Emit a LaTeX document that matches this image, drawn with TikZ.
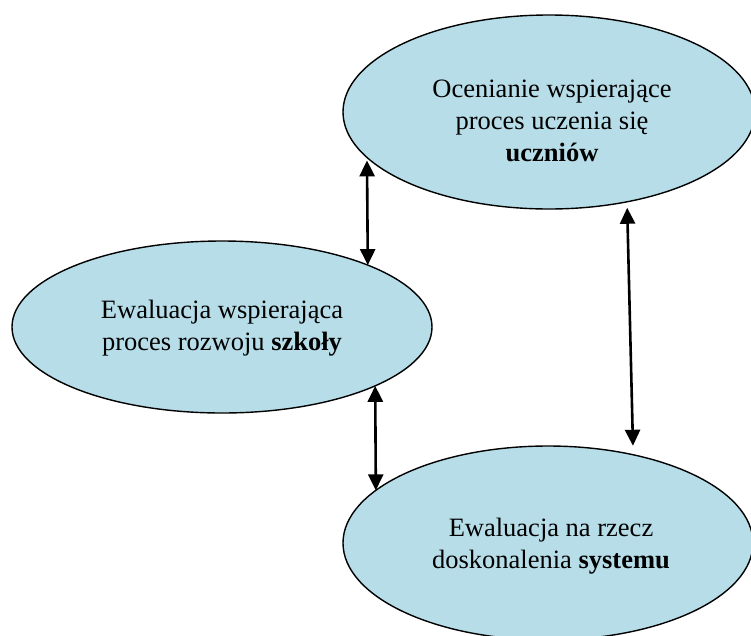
\documentclass[tikz,border=0pt]{standalone}
\usepackage{fontspec}
\setmainfont{Liberation Serif}
\usetikzlibrary{shapes.geometric,arrows.meta}
\definecolor{bubbleblue}{HTML}{B6DDE8}
\begin{document}
\begin{tikzpicture}[x=1pt,y=-1pt,
  bubble/.style={ellipse, draw=black, line width=1.4pt, fill=bubbleblue,
    inner sep=0pt, outer sep=0pt},
  caption/.style={align=center, inner sep=0pt,
    font=\fontsize{26.5}{32}\selectfont},
  link/.style={line width=2.6pt,
    {Triangle[length=16pt,width=15pt]}-{Triangle[length=16pt,width=15pt]}}]
\clip (0,0) rectangle (751,635);

% the three areas of evaluation
\node[bubble, minimum width=412pt, minimum height=194pt] (uczniowie) at (549,112) {};
\node[bubble, minimum width=420pt, minimum height=172pt] (szkola) at (222,327) {};
\node[bubble, minimum width=410pt, minimum height=194pt] (system) at (548,543) {};

\node[caption] (tUczniowie) at (552,121)
  {Ocenianie wspierające\\proces uczenia się\\\textbf{uczniów}};
\node[caption] (tSzkola) at (222,328)
  {Ewaluacja wspierająca\\proces rozwoju \textbf{szkoły}};
\node[caption] (tSystem) at (551,546)
  {Ewaluacja na rzecz\\doskonalenia \textbf{systemu}};

% two-way links
\draw[link, shorten <=3pt] (uczniowie.194.35) -- (szkola.23.85);
\draw[link, shorten <=6pt, shorten >=9pt] (uczniowie.-49) -- (system.46.5);
\draw[link] (szkola.-21.6) -- (system.163.3);
\end{tikzpicture}
\end{document}
